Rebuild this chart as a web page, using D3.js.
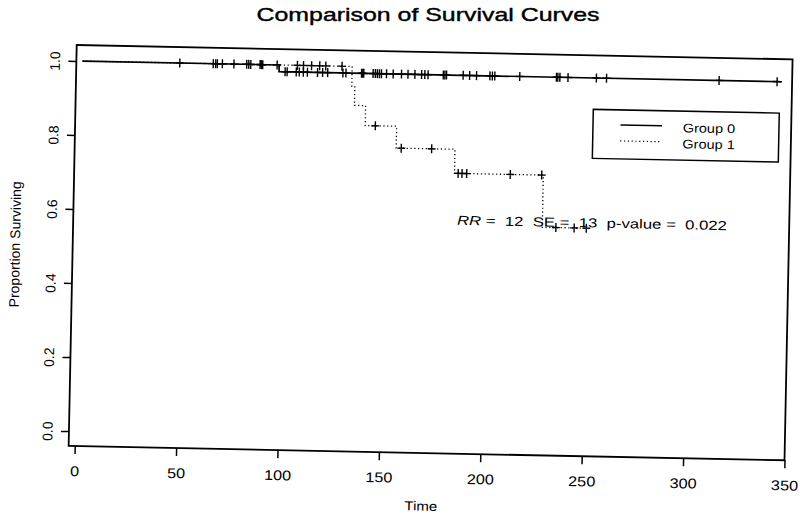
<!DOCTYPE html>
<html>
<head>
<meta charset="utf-8">
<script src="https://cdn.jsdelivr.net/npm/d3@7"></script>
<style>
  body { margin: 0; background: #fff; }
  svg { display: block; font-family: "Liberation Sans", Arial, sans-serif; }
</style>
</head>
<body>
<svg id="chart"></svg>
<script>
// data
const xTicks = [0, 50, 100, 150, 200, 250, 300, 350];
const yTicks = [0, 0.2, 0.4, 0.6, 0.8, 1.0];

// Kaplan-Meier steps (time, survival)
const group0Time = [0, 97, 345];
const group0Surv = [1, 0.982, 0.982];
const group0Censor = [48, 64.5, 65.7, 66.5, 69, 74.7, 81, 82, 83, 87.6, 88.2, 88.9,
  100, 101, 105.5, 107, 109, 111, 116, 118.5, 121, 128.5, 130, 137.7, 138.3, 138.8,
  143.4, 144.5, 145.5, 146.5, 147.5, 150, 153.3, 157.4, 160.6, 164, 167.3, 168.9, 170.5,
  178, 178.8, 179.6, 187.8, 191, 194.4, 201, 202.2, 203.4, 215.7, 233.8, 234.5, 235.5,
  239.5, 253.5, 258.5, 314, 342.6];

const group1Time = [0, 133, 134.5, 140, 155.5, 184.5, 228.3, 250];
const group1Surv = [1, 0.947, 0.895, 0.841, 0.782, 0.717, 0.576, 0.576];
const group1Censor = [96, 106, 109, 113, 117, 120, 128, 145, 158, 173, 186.3, 188.2,
  190.5, 212, 227.5, 235, 244, 250];

const legendLabels = ["Group 0", "Group 1"];
const titleText = "Comparison of Survival Curves";
const statParts = ["RR", " =  12  SE =  13  p-value =  0.022"];

// layout
const width = 800, height = 517;
const box = { left: 76.7, top: 45, width: 716, height: 401 };
const tilt = 1.15; // the scan is slightly rotated
const stretchX = 1.16; // and slightly wide

const svg = d3.select("#chart").attr("width", width).attr("height", height);

const x = d3.scaleLinear().domain([-3, 350]).range([box.left, box.left + box.width]);
const y = d3.scaleLinear().domain([-0.04, 1.043]).range([box.top + box.height, box.top]);

// stretch a text horizontally like the scan
function widen(sel, k, target) {
  sel.each(function () {
    const len = this.getComputedTextLength();
    d3.select(this)
      .attr("textLength", target || len * k)
      .attr("lengthAdjust", "spacingAndGlyphs");
  });
}

function survAt(times, survs, t) {
  let s = survs[0];
  times.forEach((tt, i) => { if (tt <= t) s = survs[i]; });
  return s;
}

// title (drawn straight)
svg.append("text")
  .attr("x", 428)
  .attr("y", 21)
  .attr("text-anchor", "middle")
  .attr("font-size", 19)
  .attr("stroke", "#000")
  .attr("stroke-width", 0.4)
  .text(titleText)
  .call(widen, 1, 343);

const g = svg.append("g")
  .attr("transform", `rotate(${tilt},${box.left},${box.top})`);

// plot box
g.append("rect")
  .attr("x", box.left)
  .attr("y", box.top)
  .attr("width", box.width)
  .attr("height", box.height)
  .attr("fill", "none")
  .attr("stroke", "#000")
  .attr("stroke-width", 1.8);

// x axis
const xAxis = g.append("g")
  .attr("transform", `translate(0,${box.top + box.height})`)
  .call(d3.axisBottom(x).tickValues(xTicks).tickSize(8).tickFormat(d3.format("d")));
xAxis.select(".domain").remove();
xAxis.selectAll("line").attr("stroke-width", 1.5);
xAxis.selectAll("text")
  .attr("y", 30).attr("dy", 0)
  .attr("font-size", 14)
  .attr("font-family", "Liberation Sans, Arial, sans-serif")
  .attr("fill", "#000")
  .call(widen, stretchX);

// y axis
const yAxis = g.append("g")
  .attr("transform", `translate(${box.left},0)`)
  .call(d3.axisLeft(y).tickValues(yTicks).tickSize(8).tickFormat(d3.format(".1f")));
yAxis.select(".domain").remove();
yAxis.selectAll("line").attr("stroke-width", 1.5);
yAxis.selectAll("text")
  .attr("x", 0).attr("y", 0).attr("dy", 0)
  .attr("transform", "translate(-16.5,0) rotate(-90)")
  .attr("text-anchor", "middle")
  .attr("font-size", 14)
  .attr("font-family", "Liberation Sans, Arial, sans-serif")
  .attr("fill", "#000");

// axis titles
g.append("text")
  .attr("x", 430)
  .attr("y", 503.5)
  .attr("text-anchor", "middle")
  .attr("font-size", 13)
  .text("Time")
  .call(widen, stretchX);

g.append("text")
  .attr("transform", `translate(24,${box.top + box.height / 2}) rotate(-90)`)
  .attr("text-anchor", "middle")
  .attr("font-size", 14)
  .text("Proportion Surviving");

// survival curves
const line = d3.line()
  .curve(d3.curveStepAfter)
  .x((d) => x(d[0]))
  .y((d) => y(d[1]));

const curves = [
  { time: group1Time, surv: group1Surv, censor: group1Censor, dash: "1.2,2.6", width: 1.3 },
  { time: group0Time, surv: group0Surv, censor: group0Censor, dash: null, width: 1.7 },
];

curves.forEach((c) => {
  g.append("path")
    .datum(c.time.map((t, i) => [t, c.surv[i]]))
    .attr("fill", "none")
    .attr("stroke", "#000")
    .attr("stroke-width", c.width)
    .attr("stroke-dasharray", c.dash)
    .attr("d", line);

  g.append("g")
    .selectAll("path")
    .data(c.censor)
    .join("path")
    .attr("transform", (t) => `translate(${x(t)},${y(survAt(c.time, c.surv, t))})`)
    .attr("d", "M-4,0H4M0,-4.5V4.5")
    .attr("stroke", "#000")
    .attr("stroke-width", 1.4);
});

// legend
const legend = g.append("g");
legend.append("rect")
  .attr("x", 594.5).attr("y", 99)
  .attr("width", 186).attr("height", 49)
  .attr("fill", "#fff")
  .attr("stroke", "#000")
  .attr("stroke-width", 1.5);

legendLabels.forEach((lab, i) => {
  const ly = 115.5 + i * 16;
  legend.append("line")
    .attr("x1", 622).attr("x2", 663.5)
    .attr("y1", ly - 1.5).attr("y2", ly - 1.5)
    .attr("stroke", "#000")
    .attr("stroke-width", i === 0 ? 1.5 : 1.2)
    .attr("stroke-dasharray", i === 0 ? null : "1.2,2.6");
  legend.append("text")
    .attr("x", 684.3)
    .attr("y", ly + 4.5)
    .attr("font-size", 12.5)
    .text(lab)
    .call(widen, stretchX);
});

// statistics note
const stat = g.append("text")
  .attr("x", 460.5)
  .attr("y", 217)
  .attr("font-size", 13)
  .style("white-space", "pre");
stat.append("tspan").attr("font-style", "italic").text(statParts[0]);
stat.append("tspan").text(statParts[1]);
stat.call(widen, 1, 270);
</script>
</body>
</html>
